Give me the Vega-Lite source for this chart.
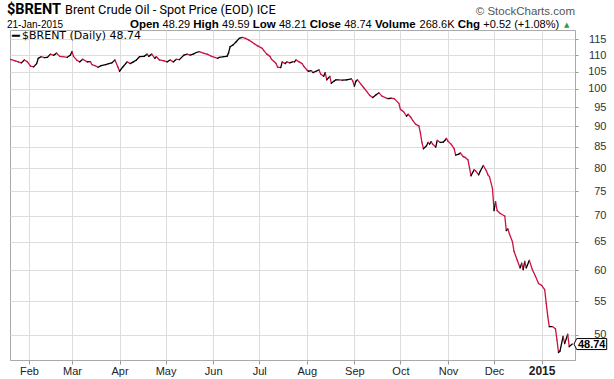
{
  "$schema": "https://vega.github.io/schema/vega-lite/v6.json",
  "width": 565,
  "height": 330,
  "autosize": {"type": "none"},
  "padding": {"left": 10, "top": 30, "right": 39, "bottom": 19},
  "background": "white",
  "config": {"view": {"stroke": "#aaaaaa", "strokeWidth": 1}, "font": "Liberation Sans"},
  "datasets": {
    "brent": [
      {"d":"2014-01-20","p":108.7},{"d":"2014-01-23","p":108.2},{"d":"2014-01-25","p":107.9},{"d":"2014-01-27","p":107.6},{"d":"2014-01-29","p":108.5},{"d":"2014-01-31","p":107.9},
      {"d":"2014-02-02","p":106.6},{"d":"2014-02-04","p":106.4},{"d":"2014-02-06","p":107.4},{"d":"2014-02-07","p":109.0},{"d":"2014-02-09","p":109.5},{"d":"2014-02-11","p":109.2},{"d":"2014-02-13","p":109.3},{"d":"2014-02-15","p":110.3},{"d":"2014-02-17","p":109.9},{"d":"2014-02-19","p":110.6},{"d":"2014-02-21","p":109.6},{"d":"2014-02-23","p":109.5},{"d":"2014-02-26","p":109.3},{"d":"2014-02-28","p":110.0},
      {"d":"2014-03-01","p":111.1},{"d":"2014-03-02","p":109.6},{"d":"2014-03-04","p":108.5},{"d":"2014-03-06","p":107.9},{"d":"2014-03-08","p":108.7},{"d":"2014-03-11","p":107.9},{"d":"2014-03-13","p":108.0},{"d":"2014-03-14","p":107.1},{"d":"2014-03-16","p":106.8},{"d":"2014-03-18","p":106.3},{"d":"2014-03-20","p":106.8},{"d":"2014-03-23","p":107.1},{"d":"2014-03-25","p":107.4},{"d":"2014-03-27","p":107.6},{"d":"2014-03-29","p":108.5},{"d":"2014-03-31","p":106.3},
      {"d":"2014-04-01","p":105.1},{"d":"2014-04-03","p":106.3},{"d":"2014-04-05","p":107.4},{"d":"2014-04-06","p":107.9},{"d":"2014-04-08","p":107.4},{"d":"2014-04-10","p":107.9},{"d":"2014-04-12","p":108.5},{"d":"2014-04-14","p":109.5},{"d":"2014-04-17","p":109.6},{"d":"2014-04-19","p":110.3},{"d":"2014-04-20","p":109.6},{"d":"2014-04-22","p":110.3},{"d":"2014-04-24","p":109.0},{"d":"2014-04-25","p":109.5},{"d":"2014-04-27","p":108.5},{"d":"2014-04-30","p":108.2},
      {"d":"2014-05-02","p":107.9},{"d":"2014-05-04","p":108.5},{"d":"2014-05-06","p":107.9},{"d":"2014-05-08","p":108.7},{"d":"2014-05-10","p":108.6},{"d":"2014-05-13","p":110.0},{"d":"2014-05-15","p":110.3},{"d":"2014-05-17","p":110.0},{"d":"2014-05-19","p":110.3},{"d":"2014-05-21","p":110.8},{"d":"2014-05-23","p":111.1},{"d":"2014-05-26","p":110.5},{"d":"2014-05-28","p":110.3},{"d":"2014-05-31","p":109.6},
      {"d":"2014-06-02","p":109.3},{"d":"2014-06-04","p":109.0},{"d":"2014-06-05","p":109.3},{"d":"2014-06-08","p":109.5},{"d":"2014-06-10","p":109.6},{"d":"2014-06-11","p":110.6},{"d":"2014-06-12","p":112.6},{"d":"2014-06-14","p":113.2},{"d":"2014-06-16","p":114.2},{"d":"2014-06-18","p":115.3},{"d":"2014-06-20","p":115.6},{"d":"2014-06-22","p":115.3},{"d":"2014-06-24","p":114.8},{"d":"2014-06-26","p":114.2},{"d":"2014-06-28","p":113.5},{"d":"2014-06-30","p":112.9},
      {"d":"2014-07-03","p":112.1},{"d":"2014-07-04","p":111.4},{"d":"2014-07-06","p":110.3},{"d":"2014-07-08","p":109.6},{"d":"2014-07-09","p":108.7},{"d":"2014-07-11","p":107.9},{"d":"2014-07-12","p":107.4},{"d":"2014-07-13","p":106.3},{"d":"2014-07-15","p":106.2},{"d":"2014-07-16","p":107.9},{"d":"2014-07-18","p":107.4},{"d":"2014-07-19","p":107.9},{"d":"2014-07-21","p":107.6},{"d":"2014-07-23","p":108.0},{"d":"2014-07-24","p":107.9},{"d":"2014-07-25","p":108.5},{"d":"2014-07-27","p":107.9},{"d":"2014-07-29","p":107.4},{"d":"2014-07-30","p":106.6},
      {"d":"2014-08-01","p":105.5},{"d":"2014-08-02","p":105.1},{"d":"2014-08-04","p":105.3},{"d":"2014-08-05","p":104.7},{"d":"2014-08-07","p":105.1},{"d":"2014-08-09","p":105.5},{"d":"2014-08-10","p":104.3},{"d":"2014-08-12","p":103.6},{"d":"2014-08-13","p":104.7},{"d":"2014-08-14","p":102.6},{"d":"2014-08-16","p":103.6},{"d":"2014-08-17","p":101.6},{"d":"2014-08-19","p":102.3},{"d":"2014-08-20","p":102.6},{"d":"2014-08-22","p":102.6},{"d":"2014-08-24","p":102.5},{"d":"2014-08-27","p":102.6},{"d":"2014-08-30","p":102.9},{"d":"2014-08-31","p":102.2},
      {"d":"2014-09-01","p":100.8},{"d":"2014-09-02","p":102.2},{"d":"2014-09-03","p":102.6},{"d":"2014-09-05","p":101.5},{"d":"2014-09-07","p":100.4},{"d":"2014-09-09","p":99.3},{"d":"2014-09-11","p":98.2},{"d":"2014-09-13","p":97.6},{"d":"2014-09-15","p":98.3},{"d":"2014-09-17","p":98.9},{"d":"2014-09-19","p":98.0},{"d":"2014-09-21","p":97.6},{"d":"2014-09-23","p":97.3},{"d":"2014-09-25","p":97.4},{"d":"2014-09-27","p":97.3},{"d":"2014-09-30","p":96.0},
      {"d":"2014-10-01","p":94.4},{"d":"2014-10-03","p":93.8},{"d":"2014-10-05","p":92.6},{"d":"2014-10-06","p":93.1},{"d":"2014-10-08","p":92.2},{"d":"2014-10-09","p":91.5},{"d":"2014-10-11","p":90.5},{"d":"2014-10-13","p":90.1},{"d":"2014-10-14","p":88.4},{"d":"2014-10-15","p":86.0},{"d":"2014-10-16","p":84.5},{"d":"2014-10-18","p":85.2},{"d":"2014-10-19","p":86.0},{"d":"2014-10-20","p":85.6},{"d":"2014-10-21","p":86.2},{"d":"2014-10-22","p":85.6},{"d":"2014-10-24","p":84.9},{"d":"2014-10-25","p":86.5},{"d":"2014-10-27","p":86.0},{"d":"2014-10-29","p":86.1},{"d":"2014-10-30","p":86.5},{"d":"2014-10-31","p":87.0},
      {"d":"2014-11-01","p":86.3},{"d":"2014-11-03","p":85.6},{"d":"2014-11-05","p":84.5},{"d":"2014-11-06","p":83.0},{"d":"2014-11-08","p":83.2},{"d":"2014-11-09","p":83.5},{"d":"2014-11-11","p":82.6},{"d":"2014-11-12","p":82.5},{"d":"2014-11-14","p":81.9},{"d":"2014-11-15","p":80.1},{"d":"2014-11-16","p":78.3},{"d":"2014-11-18","p":79.6},{"d":"2014-11-19","p":79.4},{"d":"2014-11-21","p":78.5},{"d":"2014-11-22","p":79.3},{"d":"2014-11-24","p":80.6},{"d":"2014-11-26","p":79.4},{"d":"2014-11-27","p":78.5},{"d":"2014-11-28","p":78.1},{"d":"2014-11-30","p":75.5},
      {"d":"2014-12-01","p":71.0},{"d":"2014-12-02","p":72.8},{"d":"2014-12-03","p":71.0},{"d":"2014-12-05","p":70.4},{"d":"2014-12-08","p":69.9},{"d":"2014-12-09","p":67.1},{"d":"2014-12-10","p":67.4},{"d":"2014-12-11","p":66.5},{"d":"2014-12-13","p":65.0},{"d":"2014-12-14","p":63.3},{"d":"2014-12-16","p":61.8},{"d":"2014-12-18","p":60.4},{"d":"2014-12-19","p":61.2},{"d":"2014-12-20","p":60.1},{"d":"2014-12-21","p":61.5},{"d":"2014-12-22","p":60.4},{"d":"2014-12-24","p":61.7},{"d":"2014-12-26","p":60.1},{"d":"2014-12-28","p":59.0},{"d":"2014-12-30","p":57.8},
      {"d":"2015-01-01","p":57.5},{"d":"2015-01-03","p":56.8},{"d":"2015-01-04","p":54.7},{"d":"2015-01-05","p":52.7},{"d":"2015-01-06","p":51.2},{"d":"2015-01-08","p":51.2},{"d":"2015-01-10","p":50.9},{"d":"2015-01-11","p":49.3},{"d":"2015-01-12","p":47.6},{"d":"2015-01-13","p":47.8},{"d":"2015-01-15","p":49.8},{"d":"2015-01-16","p":48.8},{"d":"2015-01-18","p":50.1},{"d":"2015-01-19","p":48.4},{"d":"2015-01-21","p":48.74}
    ]
  },
  "layer": [
    {
      "data": {"name": "brent", "format": {"parse": {"d": "date"}}},
      "transform": [
        {"window": [{"op": "lag", "field": "p", "as": "p0"}, {"op": "lag", "field": "d", "as": "d0"}], "sort": [{"field": "d", "order": "ascending"}]},
        {"filter": "datum.p0 != null"}
      ],
      "mark": {"type": "rule", "strokeWidth": 1.3, "strokeCap": "round"},
      "encoding": {
        "x": {
          "field": "d0", "type": "temporal",
          "scale": {"domain": [{"year": 2014, "month": 1, "date": 19, "hours": 15}, {"year": 2015, "month": 1, "date": 22, "hours": 18}]},
          "axis": {
            "title": null,
            "values": [
              {"year": 2014, "month": 2, "date": 1}, {"year": 2014, "month": 3, "date": 1}, {"year": 2014, "month": 4, "date": 1},
              {"year": 2014, "month": 5, "date": 1}, {"year": 2014, "month": 6, "date": 1}, {"year": 2014, "month": 7, "date": 1},
              {"year": 2014, "month": 8, "date": 1}, {"year": 2014, "month": 9, "date": 1}, {"year": 2014, "month": 10, "date": 1},
              {"year": 2014, "month": 11, "date": 1}, {"year": 2014, "month": 12, "date": 1}, {"year": 2015, "month": 1, "date": 1}
            ],
            "labelExpr": "month(datum.value) == 0 ? timeFormat(datum.value, '%Y') : timeFormat(datum.value, '%b')",
            "labelFontWeight": {"condition": {"test": "month(datum.value) == 0", "value": "bold"}, "value": "normal"},
            "labelFontSize": {"condition": {"test": "month(datum.value) == 0", "value": 12}, "value": 11},
            "labelColor": "#222222",
            "labelFont": "Liberation Sans",
            "labelPadding": 1,
            "labelFlush": false,
            "labelOverlap": false,
            "tickSize": 4,
            "tickColor": "#999999",
            "domainColor": "#aaaaaa",
            "gridColor": "#dddddd",
            "grid": true
          }
        },
        "x2": {"field": "d"},
        "y": {
          "field": "p0", "type": "quantitative",
          "scale": {"type": "log", "domain": [46.6, 118.05], "nice": false},
          "axis": {
            "orient": "right",
            "title": null,
            "values": [50, 55, 60, 65, 70, 75, 80, 85, 90, 95, 100, 105, 110, 115],
            "format": "d",
            "labelFont": "Liberation Sans",
            "labelFontSize": 11,
            "labelColor": "#333333",
            "labelAlign": "right",
            "labelPadding": 28,
            "tickSize": 3,
            "tickColor": "#999999",
            "domainColor": "#aaaaaa",
            "domainDash": [1, 1],
            "gridColor": "#dddddd",
            "grid": true
          }
        },
        "y2": {"field": "p"},
        "color": {"condition": {"test": "datum.p >= datum.p0", "value": "#000000"}, "value": "#cc1140"}
      }
    },
    {
      "data": {"name": "brent", "format": {"parse": {"d": "date"}}},
      "transform": [{"filter": "datum.p == 48.74"}],
      "mark": {"type": "point", "shape": "M 0.17 0 L 0.44 -0.55 L 3.44 -0.55 L 3.44 0.55 L 0.44 0.55 Z", "size": 400, "filled": true, "fill": "white", "stroke": "black", "strokeWidth": 1, "opacity": 1},
      "encoding": {"x": {"field": "d", "type": "temporal"}, "y": {"field": "p", "type": "quantitative"}}
    },
    {
      "data": {"name": "brent", "format": {"parse": {"d": "date"}}},
      "transform": [{"filter": "datum.p == 48.74"}],
      "mark": {"type": "text", "dx": 19.4, "dy": 0.5, "align": "center", "baseline": "middle", "font": "Liberation Sans", "fontSize": 11, "fontWeight": "bold", "color": "#000000"},
      "encoding": {"x": {"field": "d", "type": "temporal"}, "y": {"field": "p", "type": "quantitative"}, "text": {"field": "p", "type": "quantitative", "format": ".2f"}}
    },
    {
      "data": {"values": [{"t": "$BRENT"}]},
      "mark": {"type": "text", "align": "left", "baseline": "middle", "font": "Roboto", "fontSize": 14.5, "fontWeight": "bold", "color": "#000000"},
      "encoding": {"x": {"value": -3}, "y": {"value": -20.5}, "text": {"field": "t"}}
    },
    {
      "data": {"values": [{"t": "Brent Crude Oil - Spot Price (EOD) ICE"}]},
      "mark": {"type": "text", "align": "left", "baseline": "middle", "font": "Roboto", "fontSize": 12.7, "color": "#000000"},
      "encoding": {"x": {"value": 55}, "y": {"value": -20}, "text": {"field": "t"}}
    },
    {
      "data": {"values": [{"t": "© StockCharts.com"}]},
      "mark": {"type": "text", "align": "right", "baseline": "middle", "font": "Liberation Sans", "fontSize": 11.5, "color": "#555555"},
      "encoding": {"x": {"value": 565}, "y": {"value": -18.5}, "text": {"field": "t"}}
    },
    {
      "data": {"values": [{"t": "21-Jan-2015"}]},
      "mark": {"type": "text", "align": "left", "baseline": "middle", "font": "Liberation Sans", "fontSize": 10, "color": "#000000"},
      "encoding": {"x": {"value": -3}, "y": {"value": -5.5}, "text": {"field": "t"}}
    },
    {"data": {"values": [{"t": "Open"}]}, "mark": {"type": "text", "align": "left", "baseline": "middle", "fontSize": 11.5, "fontWeight": "bold", "color": "#000000"}, "encoding": {"x": {"value": 120}, "y": {"value": -5.5}, "text": {"field": "t"}}},
    {"data": {"values": [{"t": "48.29"}]}, "mark": {"type": "text", "align": "left", "baseline": "middle", "fontSize": 11, "color": "#000000"}, "encoding": {"x": {"value": 152.6}, "y": {"value": -5.5}, "text": {"field": "t"}}},
    {"data": {"values": [{"t": "High"}]}, "mark": {"type": "text", "align": "left", "baseline": "middle", "fontSize": 11.5, "fontWeight": "bold", "color": "#000000"}, "encoding": {"x": {"value": 183.3}, "y": {"value": -5.5}, "text": {"field": "t"}}},
    {"data": {"values": [{"t": "49.59"}]}, "mark": {"type": "text", "align": "left", "baseline": "middle", "fontSize": 11, "color": "#000000"}, "encoding": {"x": {"value": 212.1}, "y": {"value": -5.5}, "text": {"field": "t"}}},
    {"data": {"values": [{"t": "Low"}]}, "mark": {"type": "text", "align": "left", "baseline": "middle", "fontSize": 11.5, "fontWeight": "bold", "color": "#000000"}, "encoding": {"x": {"value": 242.8}, "y": {"value": -5.5}, "text": {"field": "t"}}},
    {"data": {"values": [{"t": "48.21"}]}, "mark": {"type": "text", "align": "left", "baseline": "middle", "fontSize": 11, "color": "#000000"}, "encoding": {"x": {"value": 269}, "y": {"value": -5.5}, "text": {"field": "t"}}},
    {"data": {"values": [{"t": "Close"}]}, "mark": {"type": "text", "align": "left", "baseline": "middle", "fontSize": 11.5, "fontWeight": "bold", "color": "#000000"}, "encoding": {"x": {"value": 299.7}, "y": {"value": -5.5}, "text": {"field": "t"}}},
    {"data": {"values": [{"t": "48.74"}]}, "mark": {"type": "text", "align": "left", "baseline": "middle", "fontSize": 11, "color": "#000000"}, "encoding": {"x": {"value": 334.2}, "y": {"value": -5.5}, "text": {"field": "t"}}},
    {"data": {"values": [{"t": "Volume"}]}, "mark": {"type": "text", "align": "left", "baseline": "middle", "fontSize": 11.5, "fontWeight": "bold", "color": "#000000"}, "encoding": {"x": {"value": 364.9}, "y": {"value": -5.5}, "text": {"field": "t"}}},
    {"data": {"values": [{"t": "268.6K"}]}, "mark": {"type": "text", "align": "left", "baseline": "middle", "fontSize": 11, "color": "#000000"}, "encoding": {"x": {"value": 409.6}, "y": {"value": -5.5}, "text": {"field": "t"}}},
    {"data": {"values": [{"t": "Chg"}]}, "mark": {"type": "text", "align": "left", "baseline": "middle", "fontSize": 11.5, "fontWeight": "bold", "color": "#000000"}, "encoding": {"x": {"value": 447.7}, "y": {"value": -5.5}, "text": {"field": "t"}}},
    {"data": {"values": [{"t": "+0.52 (+1.08%)"}]}, "mark": {"type": "text", "align": "left", "baseline": "middle", "fontSize": 11, "color": "#000000"}, "encoding": {"x": {"value": 473.3}, "y": {"value": -5.5}, "text": {"field": "t"}}},
    {"data": {"values": [{"t": "▲"}]}, "mark": {"type": "text", "align": "left", "baseline": "middle", "font": "DejaVu Sans", "fontSize": 7, "color": "#2e9e3e"}, "encoding": {"x": {"value": 554}, "y": {"value": -5.5}, "text": {"field": "t"}}},
    {"data": {"values": [{"t": "━"}]}, "mark": {"type": "text", "align": "left", "baseline": "middle", "font": "DejaVu Sans Mono", "fontSize": 13, "color": "#000000"}, "encoding": {"x": {"value": 2}, "y": {"value": 6}, "text": {"field": "t"}}},
    {"data": {"values": [{"t": "$BRENT (Daily) 48.74"}]}, "mark": {"type": "text", "align": "left", "baseline": "middle", "font": "DejaVu Sans", "fontSize": 11, "color": "#000000"}, "encoding": {"x": {"value": 12}, "y": {"value": 6}, "text": {"field": "t"}}}
  ]
}
